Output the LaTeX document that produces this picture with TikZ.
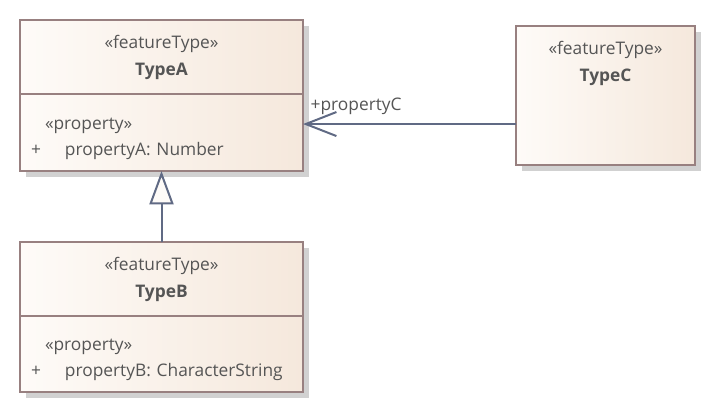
\documentclass[tikz,border=0pt]{standalone}
\usepackage{fontspec}
\setmainfont{Open Sans}
\usetikzlibrary{
    arrows.meta,
    backgrounds,
    positioning,
    fit
}
\definecolor{umlline}{RGB}{152,128,128}
\definecolor{umltext}{RGB}{85,85,85}
\definecolor{umlarrow}{RGB}{96,106,132}
\definecolor{boxleft}{RGB}{254,251,248}
\definecolor{boxright}{RGB}{245,232,220}
\tikzstyle{classhead} = [draw=umlline, line width=1.4pt, outer sep=0pt, left color=boxleft, right color=boxright, minimum width=212.25pt, minimum height=55.5pt, inner sep=0pt, align=center, text=umltext, font=\fontsize{13}{20.25}\selectfont]
\tikzstyle{classbody} = [classhead, minimum height=57.75pt, text width=195.75pt, inner xsep=8.25pt, align=left, font=\fontsize{13}{19.5}\selectfont]
\tikzstyle{classtitle} = [minimum height=55.5pt, inner sep=0pt, align=center, text=umltext, font=\fontsize{13}{20.25}\selectfont]
\tikzstyle{shadowbox} = [fill=black!18, inner sep=0pt, xshift=4.5pt, yshift=-4.5pt]
\tikzstyle{assoc} = [draw=umlarrow, line width=1.5pt, -{Straight Barb[length=23pt, width=18pt, line width=1.5pt]}]
\tikzstyle{gen} = [draw=umlarrow, line width=1.5pt, -{Triangle[length=25pt, width=18pt, fill=boxleft, line width=1.5pt]}]
\tikzstyle{assoclabel} = [anchor=south west, inner xsep=5pt, inner ysep=6pt, text=umltext, font=\fontsize{13}{15}\selectfont]

\begin{document}
\begin{tikzpicture}[x=0.75pt, y=-0.75pt]
    \useasboundingbox (0,0) rectangle (716,414);

    \node[classhead] (Ahead) at (161.5,57) {«featureType»\\ \textbf{TypeA}};
    \node[classbody] (Abody) [below=0pt of Ahead] {\rule{0pt}{17.5pt}\hspace*{10.5pt}«property»\\ \makebox[25.5pt][l]{+}propertyA: Number};

    \node[classhead] (Bhead) [below=53.25pt of Abody] {«featureType»\\ \textbf{TypeB}};
    \node[classbody] (Bbody) [below=0pt of Bhead, minimum height=57pt] {\rule{0pt}{17.5pt}\hspace*{10.5pt}«property»\\ \makebox[25.5pt][l]{+}propertyB: CharacterString};

    \node[classhead] (TypeC) at (605.5,95.5) [minimum width=134.25pt, minimum height=104.25pt] {};
    \node[classtitle] (Ctitle) [below=0pt of TypeC.north] {«featureType»\\ \textbf{TypeC}};

    \draw[gen] (Bhead.north) -- (Abody.south);
    \draw[assoc] ([yshift=-21.4pt]TypeC.west) -- ([yshift=-21.4pt]TypeC.west -| Abody.east) node[assoclabel, pos=1] {+propertyC};

    \begin{pgfonlayer}{background}
        \node [shadowbox, fit= (Ahead) (Abody)] {};
        \node [shadowbox, fit= (Bhead) (Bbody)] {};
        \node [shadowbox, fit= (TypeC)] {};
    \end{pgfonlayer}
\end{tikzpicture}
\end{document}
